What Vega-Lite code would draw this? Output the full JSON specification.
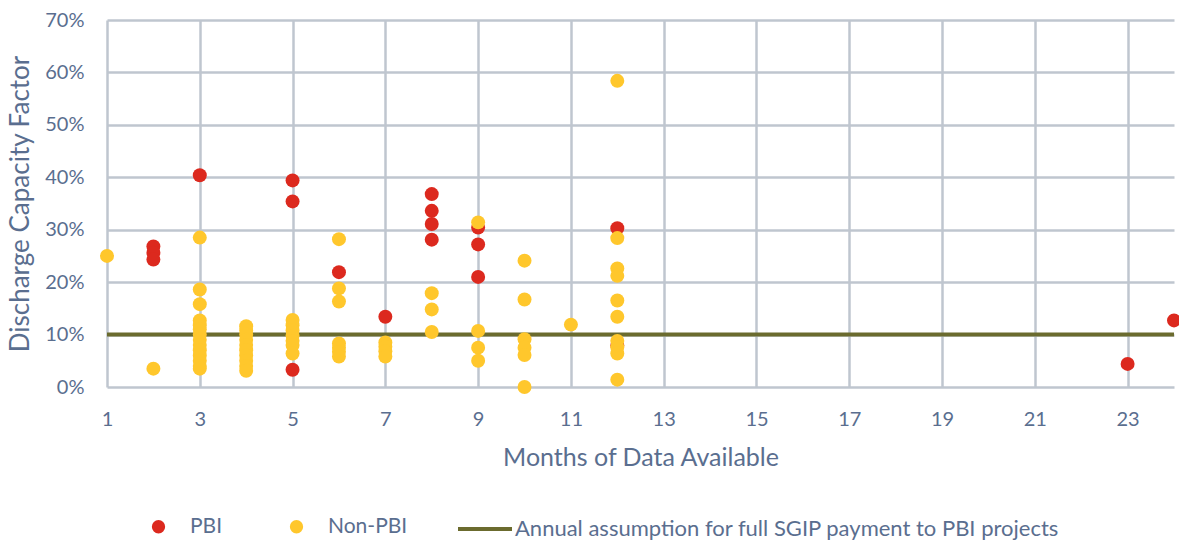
{
  "$schema": "https://vega.github.io/schema/vega-lite/v6.json",
  "autosize": {"type": "none"},
  "padding": {"left": 107, "top": 20, "right": 5, "bottom": 153},
  "width": 1067,
  "height": 367,
  "background": "white",
  "config": {
    "view": {"stroke": null},
    "font": "Lato",
    "axis": {"labelColor": "#5a6e8f", "titleColor": "#5a6e8f", "labelFont": "Lato", "titleFont": "Lato", "titleFontWeight": "normal", "gridColor": "#bfc6cf", "gridWidth": 2.5, "gridOpacity": 1, "domain": false, "ticks": false},
    "legend": {"labelColor": "#5a6e8f", "labelFont": "Lato", "labelFontSize": 21, "padding": 0, "labelLimit": 800}
  },
  "datasets": {
    "pts": [
      {"months": 2, "cf": 0.268, "type": "PBI"},
      {"months": 2, "cf": 0.256, "type": "PBI"},
      {"months": 2, "cf": 0.243, "type": "PBI"},
      {"months": 3, "cf": 0.404, "type": "PBI"},
      {"months": 5, "cf": 0.394, "type": "PBI"},
      {"months": 5, "cf": 0.354, "type": "PBI"},
      {"months": 5, "cf": 0.033, "type": "PBI"},
      {"months": 6, "cf": 0.219, "type": "PBI"},
      {"months": 7, "cf": 0.134, "type": "PBI"},
      {"months": 8, "cf": 0.368, "type": "PBI"},
      {"months": 8, "cf": 0.336, "type": "PBI"},
      {"months": 8, "cf": 0.311, "type": "PBI"},
      {"months": 8, "cf": 0.281, "type": "PBI"},
      {"months": 9, "cf": 0.304, "type": "PBI"},
      {"months": 9, "cf": 0.272, "type": "PBI"},
      {"months": 9, "cf": 0.210, "type": "PBI"},
      {"months": 12, "cf": 0.303, "type": "PBI"},
      {"months": 12, "cf": 0.079, "type": "PBI"},
      {"months": 23, "cf": 0.044, "type": "PBI"},
      {"months": 24, "cf": 0.127, "type": "PBI"},
      {"months": 1, "cf": 0.250, "type": "Non-PBI"},
      {"months": 2, "cf": 0.035, "type": "Non-PBI"},
      {"months": 3, "cf": 0.285, "type": "Non-PBI"},
      {"months": 3, "cf": 0.186, "type": "Non-PBI"},
      {"months": 3, "cf": 0.158, "type": "Non-PBI"},
      {"months": 3, "cf": 0.127, "type": "Non-PBI"},
      {"months": 3, "cf": 0.118, "type": "Non-PBI"},
      {"months": 3, "cf": 0.110, "type": "Non-PBI"},
      {"months": 3, "cf": 0.100, "type": "Non-PBI"},
      {"months": 3, "cf": 0.090, "type": "Non-PBI"},
      {"months": 3, "cf": 0.080, "type": "Non-PBI"},
      {"months": 3, "cf": 0.070, "type": "Non-PBI"},
      {"months": 3, "cf": 0.060, "type": "Non-PBI"},
      {"months": 3, "cf": 0.050, "type": "Non-PBI"},
      {"months": 3, "cf": 0.040, "type": "Non-PBI"},
      {"months": 3, "cf": 0.035, "type": "Non-PBI"},
      {"months": 4, "cf": 0.116, "type": "Non-PBI"},
      {"months": 4, "cf": 0.108, "type": "Non-PBI"},
      {"months": 4, "cf": 0.100, "type": "Non-PBI"},
      {"months": 4, "cf": 0.090, "type": "Non-PBI"},
      {"months": 4, "cf": 0.080, "type": "Non-PBI"},
      {"months": 4, "cf": 0.070, "type": "Non-PBI"},
      {"months": 4, "cf": 0.060, "type": "Non-PBI"},
      {"months": 4, "cf": 0.050, "type": "Non-PBI"},
      {"months": 4, "cf": 0.040, "type": "Non-PBI"},
      {"months": 4, "cf": 0.031, "type": "Non-PBI"},
      {"months": 5, "cf": 0.128, "type": "Non-PBI"},
      {"months": 5, "cf": 0.118, "type": "Non-PBI"},
      {"months": 5, "cf": 0.108, "type": "Non-PBI"},
      {"months": 5, "cf": 0.098, "type": "Non-PBI"},
      {"months": 5, "cf": 0.088, "type": "Non-PBI"},
      {"months": 5, "cf": 0.080, "type": "Non-PBI"},
      {"months": 5, "cf": 0.064, "type": "Non-PBI"},
      {"months": 6, "cf": 0.282, "type": "Non-PBI"},
      {"months": 6, "cf": 0.188, "type": "Non-PBI"},
      {"months": 6, "cf": 0.163, "type": "Non-PBI"},
      {"months": 6, "cf": 0.083, "type": "Non-PBI"},
      {"months": 6, "cf": 0.075, "type": "Non-PBI"},
      {"months": 6, "cf": 0.067, "type": "Non-PBI"},
      {"months": 6, "cf": 0.058, "type": "Non-PBI"},
      {"months": 7, "cf": 0.085, "type": "Non-PBI"},
      {"months": 7, "cf": 0.077, "type": "Non-PBI"},
      {"months": 7, "cf": 0.068, "type": "Non-PBI"},
      {"months": 7, "cf": 0.058, "type": "Non-PBI"},
      {"months": 8, "cf": 0.179, "type": "Non-PBI"},
      {"months": 8, "cf": 0.148, "type": "Non-PBI"},
      {"months": 8, "cf": 0.105, "type": "Non-PBI"},
      {"months": 9, "cf": 0.314, "type": "Non-PBI"},
      {"months": 9, "cf": 0.107, "type": "Non-PBI"},
      {"months": 9, "cf": 0.075, "type": "Non-PBI"},
      {"months": 9, "cf": 0.050, "type": "Non-PBI"},
      {"months": 10, "cf": 0.241, "type": "Non-PBI"},
      {"months": 10, "cf": 0.167, "type": "Non-PBI"},
      {"months": 10, "cf": 0.091, "type": "Non-PBI"},
      {"months": 10, "cf": 0.075, "type": "Non-PBI"},
      {"months": 10, "cf": 0.061, "type": "Non-PBI"},
      {"months": 10, "cf": 0.000, "type": "Non-PBI"},
      {"months": 11, "cf": 0.119, "type": "Non-PBI"},
      {"months": 12, "cf": 0.584, "type": "Non-PBI"},
      {"months": 12, "cf": 0.284, "type": "Non-PBI"},
      {"months": 12, "cf": 0.226, "type": "Non-PBI"},
      {"months": 12, "cf": 0.212, "type": "Non-PBI"},
      {"months": 12, "cf": 0.165, "type": "Non-PBI"},
      {"months": 12, "cf": 0.134, "type": "Non-PBI"},
      {"months": 12, "cf": 0.088, "type": "Non-PBI"},
      {"months": 12, "cf": 0.076, "type": "Non-PBI"},
      {"months": 12, "cf": 0.064, "type": "Non-PBI"},
      {"months": 12, "cf": 0.014, "type": "Non-PBI"}
    ],
    "ref": [
      {"cf": 0.1, "label": "Annual assumption for full SGIP payment to PBI projects"}
    ]
  },
  "layer": [
    {
      "data": {"name": "ref"},
      "mark": {"type": "rule", "strokeWidth": 4},
      "encoding": {
        "y": {"field": "cf", "type": "quantitative", "scale": {"domain": [0, 0.7], "nice": false}},
        "stroke": {
          "field": "label", "type": "nominal",
          "scale": {"range": ["#6b6b2e"]},
          "legend": {"title": null, "orient": "none", "legendX": 349, "legendY": 480, "symbolType": "stroke", "symbolSize": 2916, "symbolStrokeWidth": 4, "labelOffset": 1, "labelFontSize": 22}
        }
      }
    },
    {
      "data": {"name": "pts"},
      "mark": {"type": "point", "filled": true, "opacity": 1, "size": 195, "shape": "circle"},
      "encoding": {
        "x": {
          "field": "months", "type": "quantitative",
          "scale": {"domain": [1, 24], "nice": false, "zero": false},
          "axis": {"values": [1, 3, 5, 7, 9, 11, 13, 15, 17, 19, 21, 23], "title": "Months of Data Available", "labelFontSize": 20, "titleFontSize": 25, "labelPadding": 22, "titlePadding": 16, "labelFlush": false}
        },
        "y": {
          "field": "cf", "type": "quantitative",
          "scale": {"domain": [0, 0.7], "nice": false},
          "axis": {"values": [0, 0.1, 0.2, 0.3, 0.4, 0.5, 0.6, 0.7], "format": ".0%", "title": "Discharge Capacity Factor", "labelFontSize": 20, "titleFontSize": 26, "labelPadding": 23, "titlePadding": 11}
        },
        "color": {
          "field": "type", "type": "nominal",
          "scale": {"domain": ["PBI", "Non-PBI"], "range": ["#dc291e", "#ffc72c"]},
          "legend": {"title": null, "orient": "none", "direction": "horizontal", "legendX": 41, "legendY": 496, "symbolSize": 177, "symbolType": "circle", "symbolOpacity": 1, "labelOffset": 21, "columnPadding": 63}
        }
      }
    }
  ]
}
